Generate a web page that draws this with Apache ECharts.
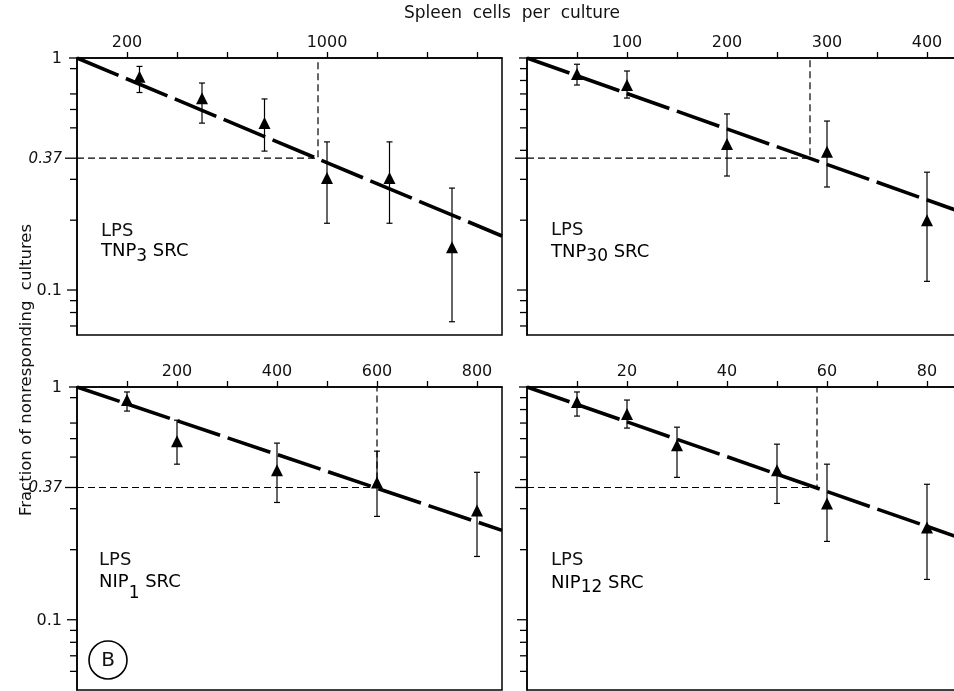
<!DOCTYPE html>
<html><head><meta charset="utf-8">
<script src="https://cdn.jsdelivr.net/npm/echarts@6/dist/echarts.min.js"></script>
<style>html,body{margin:0;padding:0;background:#fff}#c{width:954px;height:691px}</style>
</head><body><div id="c"></div>
<script>
// ---- Data ----
// Top-left: LPS / TNP3 SRC
const tnp3X  = [250, 500, 750, 1000, 1250, 1500];
const tnp3Y  = [0.83, 0.67, 0.524, 0.304, 0.304, 0.153];
const tnp3Lo = [0.71, 0.524, 0.397, 0.194, 0.194, 0.073];
const tnp3Hi = [0.92, 0.78, 0.666, 0.435, 0.435, 0.275];
const tnp3Fit = [[0, 1], [1700, 0.171]];
const tnp3Cross = 964;
// Top-right: LPS / TNP30 SRC
const tnp30X  = [50, 100, 200, 300, 400];
const tnp30Y  = [0.853, 0.765, 0.426, 0.394, 0.2];
const tnp30Lo = [0.765, 0.672, 0.31, 0.278, 0.109];
const tnp30Hi = [0.94, 0.879, 0.574, 0.535, 0.322];
const tnp30Fit = [[0, 1], [430, 0.22]];
const tnp30Cross = 283;
// Bottom-left: LPS / NIP1 SRC
const nip1X  = [100, 200, 400, 600, 800];
const nip1Y  = [0.879, 0.585, 0.439, 0.389, 0.295];
const nip1Lo = [0.788, 0.466, 0.319, 0.278, 0.187];
const nip1Hi = [0.952, 0.72, 0.574, 0.53, 0.43];
const nip1Fit = [[0, 1], [850, 0.242]];
const nip1Cross = 600;
// Bottom-right: LPS / NIP12 SRC
const nip12X  = [10, 20, 30, 50, 60, 80];
const nip12Y  = [0.862, 0.765, 0.562, 0.439, 0.316, 0.249];
const nip12Lo = [0.75, 0.666, 0.409, 0.316, 0.217, 0.149];
const nip12Hi = [0.952, 0.879, 0.672, 0.568, 0.466, 0.382];
const nip12Fit = [[0, 1], [86, 0.227]];
const nip12Cross = 58;

// Tick values and labels
const tlTicks = [200, 400, 600, 800, 1000, 1200, 1400, 1600];
const tlLabels = [200, 1000];
const trTicks = [50, 100, 150, 200, 250, 300, 350, 400];
const trLabels = [100, 200, 300, 400];
const blTicks = [100, 200, 300, 400, 500, 600, 700, 800];
const blLabels = [200, 400, 600, 800];
const brTicks = [10, 20, 30, 40, 50, 60, 70, 80];
const brLabels = [20, 40, 60, 80];
const yMajor = [1, 0.37, 0.1];
const yMajorText = ['1', '0.37', '0.1'];
const yMinorLeft = [0.9, 0.7, 0.6, 0.5, 0.3, 0.2, 0.09, 0.08, 0.07, 0.06];
const yMinorRight = [0.9, 0.8, 0.7, 0.6, 0.5, 0.4, 0.3, 0.2, 0.09, 0.08, 0.07, 0.06];
const refLevel = 0.37;

const xTitle = 'Spleen  cells  per  culture';
const yTitle = 'Fraction of nonresponding  cultures';

// ---- Layout ----
const FONT = 'DejaVu Sans';
const panels = [
  {left: 77, top: 58, width: 425, height: 277, xmax: 1700, ymin: 0.064, ticks: tlTicks, labels: tlLabels,
   x: tnp3X, y: tnp3Y, lo: tnp3Lo, hi: tnp3Hi, fit: tnp3Fit, cross: tnp3Cross, minor: yMinorLeft, showY: true},
  {left: 527, top: 58, width: 430, height: 277, xmax: 430, ymin: 0.064, ticks: trTicks, labels: trLabels,
   x: tnp30X, y: tnp30Y, lo: tnp30Lo, hi: tnp30Hi, fit: tnp30Fit, cross: tnp30Cross, minor: yMinorRight, showY: false},
  {left: 77, top: 387, width: 425, height: 303, xmax: 850, ymin: 0.0499, ticks: blTicks, labels: blLabels,
   x: nip1X, y: nip1Y, lo: nip1Lo, hi: nip1Hi, fit: nip1Fit, cross: nip1Cross, minor: yMinorLeft, showY: true},
  {left: 527, top: 387, width: 430, height: 303, xmax: 86, ymin: 0.0499, ticks: brTicks, labels: brLabels,
   x: nip12X, y: nip12Y, lo: nip12Lo, hi: nip12Hi, fit: nip12Fit, cross: nip12Cross, minor: yMinorRight, showY: false}
];

const grid = [], xAxis = [], yAxis = [], series = [];
panels.forEach((p, i) => {
  grid.push({left: p.left, top: p.top, width: p.width, height: p.height, show: true,
    borderColor: '#000', borderWidth: 1.5, backgroundColor: 'transparent', containLabel: false, outerBoundsMode: 'none'});
  const lbls = p.labels;
  xAxis.push({type: 'value', gridIndex: i, position: 'top', min: 0, max: p.xmax,
    axisLine: {show: true, onZero: false, lineStyle: {color: '#000', width: 1.5}},
    axisTick: {show: true, inside: false, length: 6, lineStyle: {color: '#000', width: 1.3}, customValues: p.ticks},
    axisLabel: {show: true, customValues: lbls, margin: 7, fontFamily: FONT, fontSize: 16, color: '#111',
      formatter: v => lbls.indexOf(v) >= 0 ? String(v) : ''},
    splitLine: {show: false}});
  yAxis.push({type: 'log', logBase: 10, gridIndex: i, min: p.ymin, max: 1,
    axisLine: {show: true, onZero: false, lineStyle: {color: '#000', width: 1.5}},
    axisTick: {show: false}, axisLabel: {show: false}, splitLine: {show: false}, minorTick: {show: false}});

  // y-axis ticks & labels, placed through the axis scale
  const tickVals = [], tickLens = [], tickTxt = [];
  yMajor.forEach((v, k) => { tickVals.push(v); tickLens.push(k === 1 ? 12 : (k === 0 ? 8 : 10)); tickTxt.push(p.showY ? yMajorText[k] : ''); });
  p.minor.filter(v => v >= p.ymin).forEach(v => { tickVals.push(v); tickLens.push(7); tickTxt.push(''); });
  series.push({type: 'custom', xAxisIndex: i, yAxisIndex: i, clip: false, silent: true, z: 6,
    encode: {x: 0, y: 1},
    data: tickVals.map((v, k) => [0, v, tickLens[k]]),
    renderItem: (params, api) => {
      const c = api.coord([api.value(0), api.value(1)]);
      const len = api.value(2);
      const txt = tickTxt[params.dataIndex];
      const ch = [{type: 'line', shape: {x1: c[0] - len, y1: c[1], x2: c[0], y2: c[1]},
        style: {stroke: '#000', lineWidth: 1.3}}];
      if (txt) ch.push({type: 'text', x: c[0] - 15, y: c[1] + 1,
        style: {text: txt, align: 'right', verticalAlign: 'middle', fill: '#111',
          font: (txt === '0.37' ? 'italic 15px ' : '16px ') + FONT}});
      return {type: 'group', children: ch};
    }});

  // 0.37 guide lines
  series.push({type: 'line', xAxisIndex: i, yAxisIndex: i, symbol: 'none', silent: true, z: 3,
    data: [[0, refLevel], [p.cross, refLevel], [p.cross, 1]],
    lineStyle: {color: '#000', width: 1.2, type: [7, 4]}});

  // fitted line
  series.push({type: 'line', xAxisIndex: i, yAxisIndex: i, symbol: 'none', silent: true, z: 4,
    data: p.fit, lineStyle: {color: '#000', width: 3.6, type: [45, 8]}});

  // error bars
  series.push({type: 'custom', xAxisIndex: i, yAxisIndex: i, clip: false, silent: true, z: 5,
    encode: {x: 0, y: [1, 2]},
    data: p.x.map((x, k) => [x, p.lo[k], p.hi[k]]),
    renderItem: (params, api) => {
      const a = api.coord([api.value(0), api.value(1)]);
      const b = api.coord([api.value(0), api.value(2)]);
      const w = 3;
      const st = {stroke: '#000', lineWidth: 1.2};
      return {type: 'group', children: [
        {type: 'line', shape: {x1: a[0], y1: a[1], x2: b[0], y2: b[1]}, style: st},
        {type: 'line', shape: {x1: a[0] - w, y1: a[1], x2: a[0] + w, y2: a[1]}, style: st},
        {type: 'line', shape: {x1: b[0] - w, y1: b[1], x2: b[0] + w, y2: b[1]}, style: st}
      ]};
    }});

  // triangle markers
  series.push({type: 'scatter', xAxisIndex: i, yAxisIndex: i, symbol: 'triangle', symbolSize: [12, 12],
    itemStyle: {color: '#000', opacity: 1}, silent: true, z: 7,
    data: p.x.map((x, k) => [x, p.y[k]])});
});

function label2(main, sub, off, x, y) {
  return {type: 'text', x: x, y: y, z: 10, silent: true,
    style: {text: '{a|' + main + '}{s|' + sub + '}{a| SRC}', verticalAlign: 'top', align: 'left',
      rich: {a: {fontFamily: FONT, fontSize: 18, lineHeight: 20, verticalAlign: 'top', color: '#111'},
             s: {fontFamily: FONT, fontSize: 17, lineHeight: 20, verticalAlign: 'top', padding: [off, 0, 0, 0], color: '#111'}}}};
}
function label1(txt, x, y) {
  return {type: 'text', x: x, y: y, z: 10, silent: true,
    style: {text: txt, font: '18px ' + FONT, fill: '#111', align: 'left', verticalAlign: 'middle'}};
}

const graphic = [
  {type: 'text', x: 512, y: 14, silent: true,
   style: {text: xTitle, font: '17px ' + FONT, fill: '#111', align: 'center', verticalAlign: 'middle'}},
  {type: 'text', x: 27, y: 370, rotation: Math.PI / 2, silent: true,
   style: {text: yTitle, font: '16.5px ' + FONT, fill: '#111', align: 'center', verticalAlign: 'middle'}},
  label1('LPS', 101, 231), label2('TNP', '3', 6, 101, 242),
  label1('LPS', 551, 230), label2('TNP', '30', 5, 551, 243),
  label1('LPS', 99, 560), label2('NIP', '1', 12, 99, 573),
  label1('LPS', 551, 560), label2('NIP', '12', 5, 551, 574),
  {type: 'circle', shape: {cx: 108, cy: 660, r: 19}, silent: true,
   style: {fill: 'none', stroke: '#000', lineWidth: 1.6}},
  {type: 'text', x: 108, y: 661, silent: true,
   style: {text: 'B', font: '20px ' + FONT, fill: '#111', align: 'center', verticalAlign: 'middle'}}
];

const chart = echarts.init(document.getElementById('c'), null, {renderer: 'canvas'});
chart.setOption({backgroundColor: '#fff', animation: false, grid, xAxis, yAxis, series, graphic});
</script>
</body></html>
